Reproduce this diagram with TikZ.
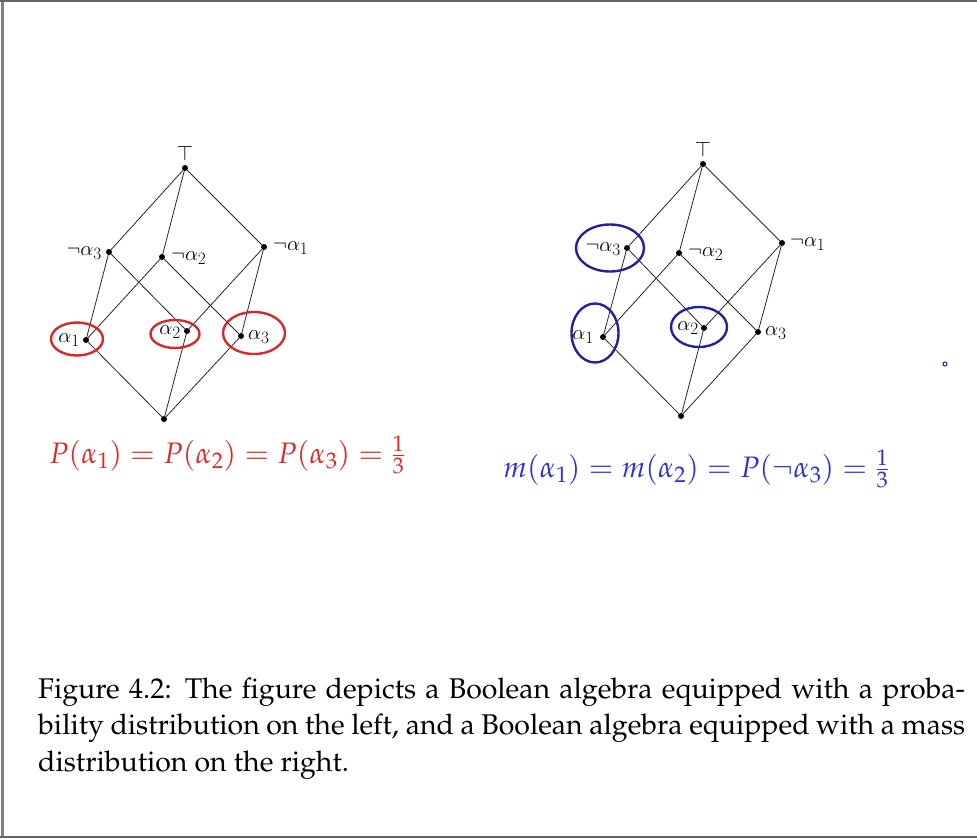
\documentclass[tikz,border=0pt]{standalone}
\usepackage[T1]{fontenc}
\usepackage{mathpazo}
\DeclareMathVersion{cmv}
\SetSymbolFont{operators}{cmv}{OT1}{cmr}{m}{n}
\SetSymbolFont{letters}{cmv}{OML}{cmm}{m}{it}
\SetSymbolFont{symbols}{cmv}{OMS}{cmsy}{m}{n}
\SetSymbolFont{largesymbols}{cmv}{OMX}{cmex}{m}{n}
\definecolor{ellred}{HTML}{D42A2A}
\definecolor{txtred}{HTML}{E02828}
\definecolor{ellblue}{HTML}{22229C}
\definecolor{txtblue}{HTML}{2E2EDC}
\begin{document}
\begin{tikzpicture}[x=1pt,y=-1pt,
  dot/.style={circle,fill=black,inner sep=0pt,minimum size=6pt},
  edge/.style={draw=black!85,line width=0.8pt},
  lab/.style={inner sep=0pt,font=\fontsize{22}{26}\selectfont\mathversion{cmv}},
  redell/.style={draw=ellred,line width=2.4pt},
  blueell/.style={draw=ellblue,line width=2.4pt},
  formula/.style={inner sep=0pt,font=\fontsize{29.6}{34}\selectfont},
  capline/.style={inner sep=0pt,anchor=base west,font=\fontsize{28.5}{36}\selectfont}]
\useasboundingbox (0,0) rectangle (977,838);
% frame
\draw[black!50,line width=2.4pt] (2.5,0) -- (2.5,838);
\draw[black!60,line width=1.5pt] (0,1) -- (977,1);
\draw[black!60,line width=2pt] (0,836.5) -- (977,836.5);

% ---------- left lattice ----------
\node[dot] (T) at (185,168) {};
\node[dot] (n3) at (109,252) {};
\node[dot] (n2) at (162,257) {};
\node[dot] (n1) at (264,247) {};
\node[dot] (a1) at (86,340) {};
\node[dot] (a2) at (187,331) {};
\node[dot] (a3) at (241,336) {};
\node[dot] (B) at (164,419) {};
\draw[edge] (T) -- (n3); \draw[edge] (T) -- (n2); \draw[edge] (T) -- (n1);
\draw[edge] (n3) -- (a1); \draw[edge] (n3) -- (a2);
\draw[edge] (n2) -- (a1); \draw[edge] (n2) -- (a3);
\draw[edge] (n1) -- (a2); \draw[edge] (n1) -- (a3);
\draw[edge] (a1) -- (B); \draw[edge] (a2) -- (B); \draw[edge] (a3) -- (B);
\node[lab,anchor=south] (lT) at (185,161) {$\top$};
\node[lab,anchor=east] (ln3) at (102,253) {$\neg\alpha_3$};
\node[lab,anchor=west] (ln2) at (171,258) {$\neg\alpha_2$};
\node[lab,anchor=west] (ln1) at (273,248) {$\neg\alpha_1$};
\node[lab,anchor=east] (la1) at (80,340) {$\alpha_1$};
\node[lab,anchor=east] (la2) at (181,332) {$\alpha_2$};
\node[lab,anchor=west] (la3) at (248,337) {$\alpha_3$};
\draw[redell] (77,339) ellipse [x radius=26,y radius=16.5];
\draw[redell] (175,334) ellipse [x radius=24.5,y radius=14];
\draw[redell] (254,333) ellipse [x radius=31,y radius=21];
\node[formula,anchor=base west,text=txtred] (fl) at (49,463)
  {$P(\alpha_1)=P(\alpha_2)=P(\alpha_3)=\frac{1}{3}$};

% ---------- right lattice ----------
\node[dot] (RT) at (703,164) {};
\node[dot] (Rn3) at (627,248) {};
\node[dot] (Rn2) at (679,253) {};
\node[dot] (Rn1) at (782,243) {};
\node[dot] (Ra1) at (603,337) {};
\node[dot] (Ra2) at (704,328) {};
\node[dot] (Ra3) at (758,332) {};
\node[dot] (RB) at (681,416) {};
\draw[edge] (RT) -- (Rn3); \draw[edge] (RT) -- (Rn2); \draw[edge] (RT) -- (Rn1);
\draw[edge] (Rn3) -- (Ra1); \draw[edge] (Rn3) -- (Ra2);
\draw[edge] (Rn2) -- (Ra1); \draw[edge] (Rn2) -- (Ra3);
\draw[edge] (Rn1) -- (Ra2); \draw[edge] (Rn1) -- (Ra3);
\draw[edge] (Ra1) -- (RB); \draw[edge] (Ra2) -- (RB); \draw[edge] (Ra3) -- (RB);
\node[lab,anchor=south] (RlT) at (703,157) {$\top$};
\node[lab,anchor=east] (Rln3) at (621,249) {$\neg\alpha_3$};
\node[lab,anchor=west] (Rln2) at (688,254) {$\neg\alpha_2$};
\node[lab,anchor=west] (Rln1) at (790,244) {$\neg\alpha_1$};
\node[lab,anchor=east] (Rla1) at (594,337) {$\alpha_1$};
\node[lab,anchor=east] (Rla2) at (699,328) {$\alpha_2$};
\node[lab,anchor=west] (Rla3) at (765,333) {$\alpha_3$};
\draw[blueell] (610,248) ellipse [x radius=34,y radius=23.5];
\draw[blueell] (595,333) ellipse [x radius=23.5,y radius=29.5];
\draw[blueell] (699,327) ellipse [x radius=28,y radius=20];
\draw[ellblue,line width=1pt] (945,364) circle [radius=2];
\node[formula,anchor=base west,text=txtblue] (fr) at (503,477)
  {$m(\alpha_1)=m(\alpha_2)=P(\neg\alpha_3)=\frac{1}{3}$};

% ---------- caption ----------
\node[capline] (c1) at (38,698) {\makebox[927pt][s]{Figure 4.2: The figure depicts a Boolean algebra equipped with a proba-}};
\node[capline] (c2) at (38,734.5) {\makebox[927pt][s]{bility distribution on the left, and a Boolean algebra equipped with a mass}};
\node[capline] (c3) at (38,771) {distribution on the right.};
\end{tikzpicture}
\end{document}
